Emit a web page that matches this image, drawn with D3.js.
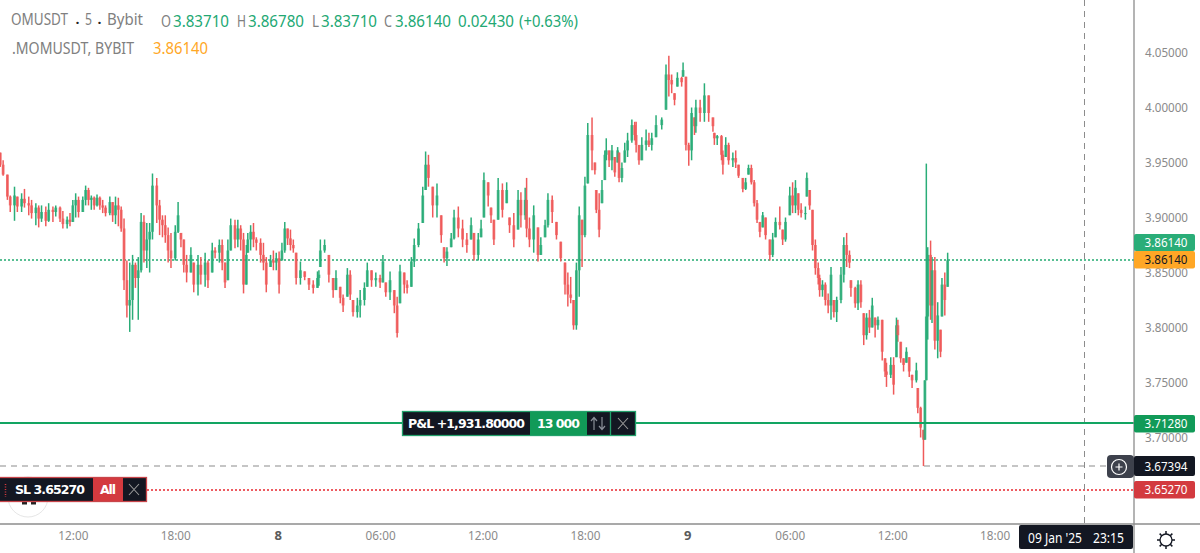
<!DOCTYPE html>
<html>
<head>
<meta charset="utf-8">
<title>OMUSDT 5 Bybit</title>
<style>
  html, body { margin: 0; padding: 0; background: #fff; overflow: hidden; }
  svg { display: block; }
  text { font-family: "Noto Sans", sans-serif; }
  .tag { font-family: "DejaVu Sans", sans-serif; font-weight: bold; font-size: 12.5px; fill: #fff; }
  .axis text { fill: #8a8a8a; font-size: 13px; }
  .axis path, .axis line { display: none; }
</style>
</head>
<body>
<script src="https://cdn.jsdelivr.net/npm/d3@7/dist/d3.min.js"></script>
<script>
// number of 5 minute candles since the first one on the left of the chart
var barIndex = [
  0,2,5,7,10,12,15,17,20,22,25,27,29,32,34,37,39,42,44,47,49,51,53,55,58,60,62,64,66,68,70,72,74,77,79,81,83,85,
  87,89,91,93,95,97,99,101,103,105,107,110,112,114,116,118,120,123,125,127,129,131,134,136,139,141,144,146,149,151,
  154,156,158,160,162,165,167,169,171,173,174,176,178,180,183,185,187,190,192,194,196,198,200,202,204,206,208,
  211,214,217,220,223,224,225,228,231,234,236,239,241,244,246,248,251,253,256,258,261,264,267,269,271,274,277,279,281,284,
  286,289,291,294,297,299,301,304,307,310,312,314,317,319,322,325,328,331,333,336,338,340,343,345,347,350,353,356,358,361,
  364,366,369,370,372,375,378,380,383,385,388,391,394,397,399,401,403,405,
  407,409,411,413,416,418,419,421,423,425,426,428,430,432,434,435,437,439,441,444,446,447,449,451,454,456,458,461,465,468,
  470,472,474,476,479,480,482,484,486,488,489,492,
  495,498,501,502,504,507,508,510,512,515,517,519,522,524,526,528,530,532,534,536,538,541,543,545,548,550,552,555,557,559,
  561,563,566,567,569,571,573,
  575,576,578,580,582,584,586,588,591,593,595,597,598,601,603,605,607,609,611,613,615,617,620,622,623,626,628,630,631,633,
  635,637,639,641,644,645,647,649,650,651,652,654,655,657,659,661,662,664,666
];

var highs = [
  3.959,3.952,3.939,3.920,3.928,3.919,3.922,3.926,3.919,3.916,
  3.913,3.911,3.911,3.910,3.913,3.910,3.911,3.910,3.906,3.901,
  3.904,3.916,3.922,3.919,3.919,3.929,3.927,3.920,3.919,3.921,
  3.919,3.916,3.911,3.919,3.914,3.919,3.918,3.910,
  3.899,3.861,3.859,3.866,3.859,3.864,3.904,3.902,3.895,3.895,
  3.940,3.936,3.916,3.902,3.902,3.891,3.886,3.893,3.914,3.886,
  3.880,3.866,3.873,3.859,3.866,3.864,3.868,3.861,3.877,3.873,
  3.880,3.880,3.859,3.880,3.899,3.898,3.898,3.893,3.886,3.875,
  3.886,3.893,3.895,3.882,3.881,3.877,3.864,3.866,3.870,3.868,
  3.869,3.877,3.896,3.890,3.889,3.880,3.868,
  3.860,3.851,3.845,3.843,3.851,3.852,3.880,3.880,3.866,3.845,
  3.852,3.837,3.830,3.854,3.852,3.825,3.827,3.834,3.841,3.859,
  3.852,3.850,3.848,3.866,3.841,3.851,3.834,3.828,3.857,3.850,
  3.843,3.864,3.881,3.895,3.928,3.960,3.957,3.928,3.931,3.902,
  3.873,3.873,3.886,3.907,3.910,3.898,3.886,3.900,3.886,3.886,
  3.898,3.941,3.932,3.909,3.898,3.936,3.931,3.932,3.900,3.904,
  3.925,3.923,3.927,3.936,3.900,3.911,3.891,3.882,3.898,3.922,
  3.920,3.896,3.878,3.859,3.850,3.846,3.825,3.859,
  3.910,3.898,3.937,3.986,3.991,3.950,3.925,3.922,3.934,3.961,
  3.972,3.961,3.966,3.955,3.964,3.959,3.950,3.968,3.977,3.989,
  3.987,3.987,3.966,3.973,3.980,3.977,3.977,3.993,3.991,4.039,
  4.047,4.030,4.013,4.032,4.028,4.041,4.028,3.968,4.000,3.991,
  4.007,4.007,
  4.022,4.011,3.991,3.977,3.975,3.975,3.961,3.973,3.968,3.959,
  3.961,3.948,3.936,3.936,3.948,3.948,3.934,3.916,3.896,3.905,
  3.900,3.880,3.886,3.900,3.910,3.889,3.900,3.928,3.932,3.934,
  3.922,3.913,3.910,3.941,3.925,3.907,3.880,
  3.859,3.848,3.843,3.841,3.831,3.855,3.825,3.828,3.855,3.882,
  3.886,3.870,3.843,3.837,3.843,3.843,3.813,3.813,3.816,3.827,
  3.809,3.810,3.807,3.772,3.768,3.773,3.773,3.809,3.807,3.787,
  3.772,3.782,3.773,3.757,3.768,3.745,3.728,3.707,3.752,3.949,
  3.873,3.879,3.864,3.864,3.823,3.798,3.845,3.850,3.868
];

var lows = [
  3.946,3.938,3.916,3.905,3.897,3.905,3.905,3.909,3.902,3.899,
  3.893,3.891,3.896,3.892,3.896,3.896,3.901,3.896,3.890,3.890,
  3.892,3.896,3.900,3.900,3.905,3.911,3.911,3.907,3.907,3.910,
  3.907,3.904,3.901,3.902,3.896,3.894,3.892,3.887,
  3.834,3.809,3.796,3.807,3.836,3.807,3.850,3.859,3.854,3.850,
  3.880,3.895,3.884,3.882,3.877,3.859,3.854,3.861,3.886,3.873,
  3.850,3.841,3.850,3.832,3.829,3.839,3.837,3.836,3.850,3.863,
  3.859,3.852,3.836,3.843,3.870,3.872,3.873,3.870,3.831,3.839,
  3.868,3.870,3.873,3.870,3.859,3.852,3.832,3.855,3.852,3.852,
  3.831,3.861,3.868,3.875,3.870,3.868,3.839,
  3.839,3.843,3.834,3.831,3.836,3.838,3.855,3.868,3.841,3.827,
  3.834,3.822,3.814,3.828,3.825,3.810,3.809,3.809,3.820,3.837,
  3.837,3.837,3.836,3.841,3.828,3.825,3.813,3.791,3.822,3.831,
  3.831,3.837,3.855,3.873,3.895,3.925,3.928,3.900,3.900,3.877,
  3.859,3.856,3.873,3.880,3.882,3.873,3.868,3.880,3.861,3.861,
  3.882,3.900,3.910,3.895,3.875,3.898,3.900,3.913,3.886,3.873,
  3.889,3.891,3.898,3.882,3.873,3.868,3.860,3.866,3.882,3.891,
  3.895,3.880,3.860,3.830,3.819,3.822,3.798,3.798,
  3.828,3.855,3.882,3.931,3.943,3.939,3.904,3.882,3.913,3.934,
  3.952,3.946,3.943,3.937,3.950,3.932,3.932,3.950,3.955,3.968,
  3.970,3.959,3.948,3.952,3.961,3.964,3.961,3.973,3.980,3.998,
  4.010,4.013,4.002,4.019,4.019,4.028,3.961,3.947,3.952,3.975,
  3.977,3.987,
  3.987,3.987,3.978,3.966,3.966,3.952,3.939,3.955,3.948,3.946,
  3.945,3.936,3.923,3.925,3.939,3.930,3.910,3.895,3.882,3.891,
  3.880,3.861,3.864,3.882,3.889,3.875,3.878,3.902,3.904,3.904,
  3.902,3.900,3.898,3.919,3.907,3.870,3.848,
  3.839,3.828,3.828,3.820,3.813,3.807,3.809,3.805,3.822,3.841,
  3.855,3.854,3.828,3.818,3.816,3.818,3.784,3.789,3.795,3.800,
  3.791,3.798,3.770,3.755,3.746,3.754,3.739,3.773,3.787,3.768,
  3.760,3.768,3.755,3.745,3.750,3.722,3.700,3.674,3.698,3.752,
  3.789,3.807,3.804,3.780,3.772,3.773,3.810,3.811,3.837
];

var closes = [
  3.948,3.939,3.919,3.911,3.920,3.910,3.917,3.913,3.911,3.904,
  3.909,3.899,3.905,3.897,3.907,3.905,3.909,3.899,3.894,3.898,
  3.896,3.911,3.916,3.905,3.916,3.925,3.916,3.918,3.911,3.918,
  3.911,3.909,3.904,3.914,3.902,3.911,3.907,3.890,
  3.843,3.820,3.825,3.857,3.845,3.852,3.896,3.870,3.880,3.887,
  3.929,3.911,3.898,3.893,3.884,3.870,3.863,3.887,3.902,3.880,
  3.857,3.850,3.866,3.839,3.857,3.848,3.859,3.843,3.870,3.868,
  3.875,3.859,3.841,3.870,3.893,3.880,3.890,3.880,3.839,3.866,
  3.880,3.887,3.880,3.877,3.866,3.859,3.839,3.861,3.859,3.863,
  3.839,3.870,3.890,3.881,3.875,3.872,3.845,
  3.852,3.846,3.839,3.836,3.845,3.848,3.870,3.875,3.848,3.834,
  3.845,3.827,3.820,3.848,3.830,3.814,3.820,3.825,3.836,3.852,
  3.843,3.845,3.841,3.860,3.832,3.843,3.820,3.795,3.851,3.839,
  3.836,3.860,3.875,3.890,3.920,3.948,3.936,3.911,3.920,3.884,
  3.863,3.869,3.881,3.900,3.890,3.880,3.875,3.893,3.866,3.880,
  3.890,3.934,3.920,3.902,3.880,3.925,3.907,3.925,3.893,3.880,
  3.916,3.902,3.916,3.890,3.880,3.902,3.866,3.875,3.893,3.916,
  3.905,3.884,3.863,3.839,3.830,3.827,3.802,3.852,
  3.902,3.884,3.929,3.975,3.961,3.943,3.907,3.889,3.925,3.957,
  3.961,3.952,3.961,3.941,3.961,3.936,3.945,3.961,3.970,3.984,
  3.975,3.966,3.952,3.966,3.970,3.966,3.972,3.984,3.989,4.030,
  4.025,4.021,4.007,4.027,4.023,4.034,3.966,3.961,3.995,3.983,
  4.000,3.995,
  4.011,3.995,3.983,3.972,3.974,3.957,3.948,3.966,3.952,3.954,
  3.950,3.938,3.926,3.932,3.945,3.932,3.913,3.898,3.887,3.902,
  3.884,3.866,3.880,3.896,3.893,3.880,3.896,3.920,3.911,3.927,
  3.907,3.904,3.904,3.936,3.911,3.875,3.854,
  3.845,3.834,3.839,3.825,3.820,3.848,3.814,3.825,3.848,3.875,
  3.866,3.859,3.836,3.822,3.839,3.823,3.793,3.809,3.800,3.820,
  3.802,3.807,3.778,3.760,3.757,3.766,3.748,3.802,3.793,3.772,
  3.766,3.778,3.760,3.752,3.761,3.727,3.709,3.698,3.752,3.810,
  3.866,3.820,3.852,3.788,3.811,3.778,3.839,3.825,3.861
];

var priceTicks = [4.05, 4.00, 3.95, 3.90, 3.85, 3.80, 3.75, 3.70];
var timeTicks = ["2025-01-07T12:00", "2025-01-07T18:00", "2025-01-08T00:00", "2025-01-08T06:00", "2025-01-08T12:00",
                 "2025-01-08T18:00", "2025-01-09T00:00", "2025-01-09T06:00", "2025-01-09T12:00", "2025-01-09T18:00"];
var timeLabels = ["12:00", "18:00", "8", "06:00", "12:00", "18:00", "9", "06:00", "12:00", "18:00"];

var lastPrice = 3.8614, positionPrice = 3.7128, crossPrice = 3.67394, stopPrice = 3.6527;
var crossTime = "2025-01-09T23:15";

var width = 1200, height = 553, paneRight = 1134, paneBottom = 524;
var green = "#2aad78", red = "#ef5a5a", orange = "#ffa726", dark = "#131722";

var svg = d3.select("body").append("svg").attr("width", width).attr("height", height);

// the screenshot is soft, so the candles get a touch of blur
svg.append("defs").append("filter").attr("id", "soft")
  .attr("x", "-2%").attr("y", "-2%").attr("width", "104%").attr("height", "104%")
  .append("feGaussianBlur").attr("stdDeviation", 0.4);

var x = d3.scaleTime()
  .domain([new Date("2025-01-07T07:44"), new Date("2025-01-10T02:10")])
  .range([0, paneRight]);
var y = d3.scaleLinear().domain([3.70, 4.05]).range([437.5, 52.5]);

// bars
var firstBar = new Date("2025-01-07T07:45").getTime();
var bars = barIndex.map(function (idx, i) {
  var prev = i ? closes[i - 1] : highs[0];
  return {
    time: new Date(firstBar + idx * 300000),
    high: highs[i],
    low: lows[i],
    close: closes[i],
    open: Math.max(lows[i], Math.min(highs[i], prev))
  };
});
function barColor(d) { return d.close >= d.open ? green : red; }

// horizontal level line; coloured lines straddle two pixel rows or the hue washes out
function level(price, x1, color, sw, dash) {
  var py = Math.round(y(price));
  svg.append("line").attr("x1", x1).attr("x2", paneRight).attr("y1", py).attr("y2", py)
    .attr("stroke", color).attr("stroke-width", sw).attr("stroke-dasharray", dash);
}

// level lines, under the candles
level(lastPrice, 0, "#22ab70", 1.6, "2,2");
level(stopPrice, 147, "#e8262e", 1.6, "2,2");
level(crossPrice, 0, "#8c8c8c", 1.1, "6,5");
svg.append("line").attr("x1", Math.floor(x(new Date(crossTime))) + 0.5).attr("x2", Math.floor(x(new Date(crossTime))) + 0.5).attr("y1", 0).attr("y2", paneBottom)
  .attr("stroke", "#8c8c8c").attr("stroke-width", 1).attr("stroke-dasharray", "6,5");

// candles
var candles = svg.append("g").attr("filter", "url(#soft)");
candles.append("g").selectAll("line").data(bars).enter().append("line")
  .attr("x1", function (d) { return x(d.time); })
  .attr("x2", function (d) { return x(d.time); })
  .attr("y1", function (d) { return y(d.high); })
  .attr("y2", function (d) { return y(d.low); })
  .attr("stroke", barColor)
  .attr("stroke-width", 1.5);
candles.append("g").selectAll("rect").data(bars).enter().append("rect")
  .attr("x", function (d) { return x(d.time) - 1.4; })
  .attr("width", 2.8)
  .attr("y", function (d) { return y(Math.max(d.open, d.close)); })
  .attr("height", function (d) { return Math.max(1, Math.abs(y(d.open) - y(d.close))); })
  .attr("fill", barColor)
  .attr("fill-opacity", 0.8);

level(positionPrice, 0, "#12a562", 2, null);

// axes
var yAxis = d3.axisRight(y).tickValues(priceTicks).tickSize(0).tickPadding(0).tickFormat(d3.format(".5f"));
svg.append("g").attr("class", "axis").attr("transform", "translate(1166.5,0)").call(yAxis)
  .selectAll("text").attr("text-anchor", "middle")
  .attr("textLength", 43).attr("lengthAdjust", "spacingAndGlyphs");

var xAxis = d3.axisBottom(x).tickValues(timeTicks.map(function (t) { return new Date(t); }))
  .tickSize(0).tickPadding(0).tickFormat(function (d, i) { return timeLabels[i]; });
var xLabels = svg.append("g").attr("class", "axis").attr("transform", "translate(0,531)").call(xAxis).selectAll("text");
xLabels.style("fill", function (d, i) { return timeLabels[i].length == 1 ? "#5a5a5a" : "#8a8a8a"; })
  .style("font-weight", function (d, i) { return timeLabels[i].length == 1 ? "bold" : "normal"; })
  .filter(function (d, i) { return timeLabels[i].length > 1; })
  .attr("textLength", 30).attr("lengthAdjust", "spacingAndGlyphs");

svg.append("line").attr("x1", paneRight).attr("x2", paneRight).attr("y1", 0).attr("y2", height).attr("stroke", "#8c8c8c").attr("stroke-width", 1.3);
svg.append("line").attr("x1", 0).attr("x2", width).attr("y1", paneBottom).attr("y2", paneBottom).attr("stroke", "#8c8c8c").attr("stroke-width", 1.3);

// price tags on the axis
function priceTag(price, top, h, fill, color) {
  svg.append("rect").attr("x", paneRight).attr("y", top).attr("width", 61).attr("height", h).attr("rx", 2).attr("fill", fill);
  svg.append("text").attr("x", 1166).attr("y", top + h / 2 + 4.5).attr("text-anchor", "middle")
    .attr("font-size", 13).attr("textLength", 43).attr("lengthAdjust", "spacingAndGlyphs")
    .attr("fill", color).text(d3.format(".5f")(price));
}
priceTag(lastPrice, 234, 17, green, "#fff");
priceTag(lastPrice, 251, 17.5, orange, "#131722");
priceTag(positionPrice, 415, 17.5, "#119a58", "#fff");
priceTag(crossPrice, 456, 20, dark, "#fff");
priceTag(stopPrice, 481, 17.5, "#d33a3f", "#fff");

// add-order button next to the crosshair label
svg.append("rect").attr("x", 1107).attr("y", 455).attr("width", 27).attr("height", 23).attr("rx", 4).attr("fill", "#3d414c");
svg.append("circle").attr("cx", 1119).attr("cy", 467).attr("r", 7.5).attr("fill", "none").attr("stroke", "#fff").attr("stroke-width", 1.2);
svg.append("path").attr("d", "M1115.5,467H1122.5M1119,463.5V470.5").attr("stroke", "#fff").attr("stroke-width", 1.2);

// crosshair time label
svg.append("rect").attr("x", 1019).attr("y", 525).attr("width", 114).attr("height", 24).attr("rx", 2).attr("fill", dark);
svg.append("text").attr("x", 1028).attr("y", 543).attr("font-size", 13.5).attr("fill", "#fff")
  .attr("textLength", 54).attr("lengthAdjust", "spacingAndGlyphs").text("09 Jan '25");
svg.append("text").attr("x", 1093).attr("y", 543).attr("font-size", 13.5).attr("fill", "#fff")
  .attr("textLength", 31).attr("lengthAdjust", "spacingAndGlyphs").text("23:15");

// settings icon
svg.append("circle").attr("cx", 1166).attr("cy", 540).attr("r", 6).attr("fill", "none").attr("stroke", "#131722").attr("stroke-width", 1.3);
d3.range(8).forEach(function (k) {
  var a = k * Math.PI / 4;
  svg.append("line")
    .attr("x1", 1166 + 6 * Math.cos(a)).attr("y1", 540 + 6 * Math.sin(a))
    .attr("x2", 1166 + 9 * Math.cos(a)).attr("y2", 540 + 9 * Math.sin(a))
    .attr("stroke", "#131722").attr("stroke-width", 1.5);
});

// position widget
var pos = svg.append("g");
pos.append("rect").attr("x", 402.5).attr("y", 411.5).attr("width", 233).attr("height", 24).attr("fill", dark).attr("stroke", "#22a06b").attr("stroke-width", 1.3);
pos.append("rect").attr("x", 530).attr("y", 412).attr("width", 57).attr("height", 23).attr("fill", "#119a58");
pos.append("line").attr("x1", 610.5).attr("x2", 610.5).attr("y1", 412).attr("y2", 435).attr("stroke", "#22a06b").attr("stroke-width", 1.3);
pos.append("text").attr("class", "tag").attr("x", 408).attr("y", 428).attr("textLength", 117).text("P&L +1,931.80000");
pos.append("text").attr("class", "tag").attr("x", 537).attr("y", 428).attr("textLength", 43).text("13 000");
pos.append("path").attr("d", "M594,430V418M591,421L594,417.5L597,421M602,417V429M599,426L602,429.5L605,426")
  .attr("fill", "none").attr("stroke", "#8a8f98").attr("stroke-width", 1.2);
pos.append("path").attr("d", "M618,418L628,429M628,418L618,429").attr("stroke", "#9a9a9a").attr("stroke-width", 1.1);

// watermark logo, mostly behind the SL widget
svg.append("circle").attr("cx", 28).attr("cy", 497).attr("r", 20).attr("fill", "none").attr("stroke", "#e6e6e6").attr("stroke-width", 1);
svg.append("rect").attr("x", 22).attr("y", 501).attr("width", 5).attr("height", 3.5).attr("fill", "#222");
svg.append("rect").attr("x", 31).attr("y", 501).attr("width", 5).attr("height", 3.5).attr("fill", "#222");

// stop loss widget
var sl = svg.append("g");
sl.append("rect").attr("x", -2).attr("y", 477.5).attr("width", 148.5).attr("height", 24).attr("fill", dark).attr("stroke", "#c8454a").attr("stroke-width", 1.3);
sl.append("rect").attr("x", 93).attr("y", 478).attr("width", 30).attr("height", 23).attr("fill", "#d33a3f");
sl.append("line").attr("x1", 5.5).attr("x2", 5.5).attr("y1", 484).attr("y2", 497).attr("stroke", "#d33a3f").attr("stroke-width", 1.5).attr("stroke-dasharray", "1,1.5");
sl.append("text").attr("class", "tag").attr("x", 15).attr("y", 494).attr("textLength", 70).text("SL 3.65270");
sl.append("text").attr("class", "tag").attr("x", 100).attr("y", 494).attr("textLength", 16).text("All");
sl.append("path").attr("d", "M129,484L139,495M139,484L129,495").attr("stroke", "#9a9a9a").attr("stroke-width", 1.1);

// legend
var legendGrey = "#808080", legendGreen = "#22a873";
var legendText = ["OMUSDT", ".", "5", ".", "Bybit", "O", "3.83710", "H", "3.86780", "L", "3.83710", "C", "3.86140", "0.02430", "(+0.63%)", ".MOMUSDT, BYBIT", "3.86140"];
var legendX = [11, 75, 85, 97, 107, 161, 173, 237, 248, 312, 321, 384, 395, 458, 519, 12, 153];
var legendW = [57, 5, 7, 5, 36, 10, 56, 9, 56, 7, 56, 8, 56, 56, 59, 122, 55];
var legendY = [25, 24, 25, 24, 25, 27, 27, 27, 27, 27, 27, 27, 27, 27, 27, 54, 54];
var legendFill = [legendGrey, "#222", legendGrey, "#222", legendGrey, legendGrey, legendGreen, legendGrey, legendGreen, legendGrey, legendGreen,
                  legendGrey, legendGreen, legendGreen, legendGreen, legendGrey, orange];
svg.append("g").selectAll("text").data(legendText).enter().append("text")
  .attr("x", function (d, i) { return legendX[i]; })
  .attr("y", function (d, i) { return legendY[i]; })
  .attr("textLength", function (d, i) { return legendW[i]; })
  .attr("lengthAdjust", "spacingAndGlyphs")
  .attr("font-size", 16)
  .attr("fill", function (d, i) { return legendFill[i]; })
  .text(function (d) { return d; });
</script>
</body>
</html>
